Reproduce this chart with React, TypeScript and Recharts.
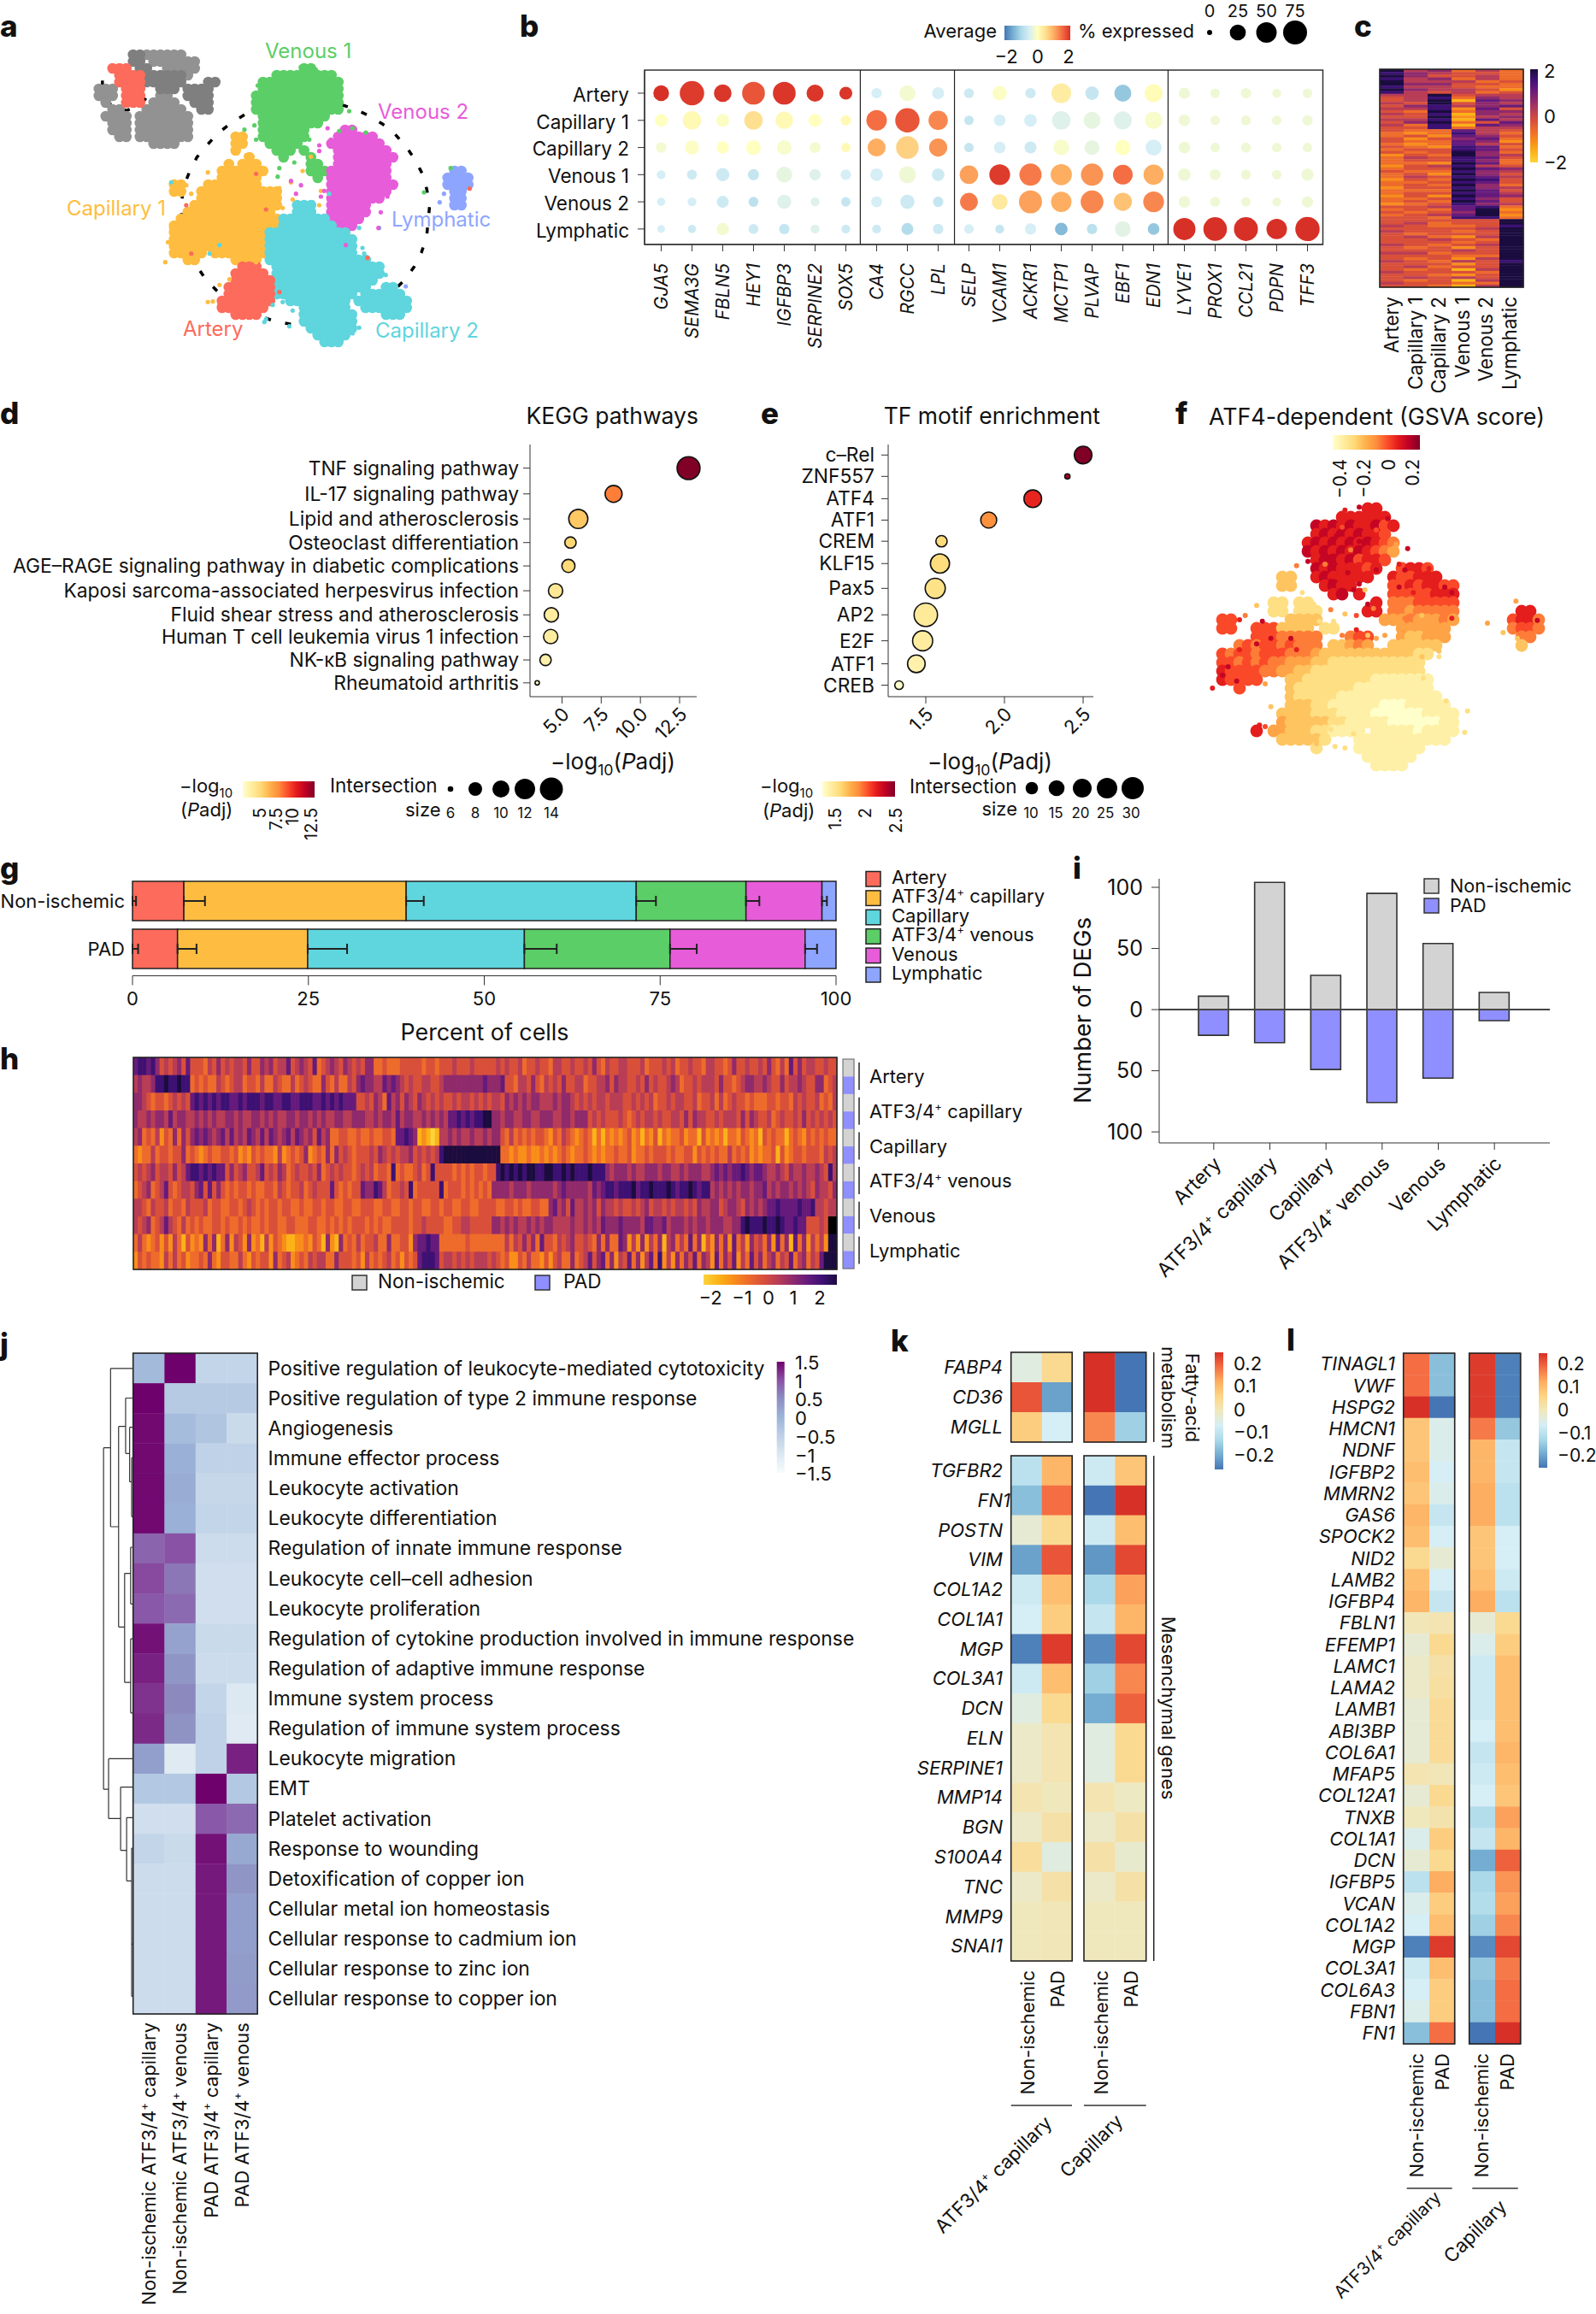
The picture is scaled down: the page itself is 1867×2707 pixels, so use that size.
import React from "react";
import { Bar, BarChart, ReferenceArea, ReferenceLine, Scatter, ScatterChart, XAxis, YAxis } from "recharts";

const FONT = "Inter, 'Liberation Sans', sans-serif";
const INK = "#111";

// ---------- colours ----------
const mix = (a: string, b: string, t: number) => {
  const p = (s: string, i: number) => parseInt(s.slice(i, i + 2), 16);
  const c = [1, 3, 5].map((i) => Math.round(p(a, i) + (p(b, i) - p(a, i)) * t));
  return `rgb(${c[0]},${c[1]},${c[2]})`;
};
const ramp = (stops: string[], t: number) => {
  const k = Math.max(0, Math.min(0.9999, t)) * (stops.length - 1);
  const i = Math.floor(k);
  return mix(stops[i], stops[i + 1], k - i);
};
const YLORRD = ["#ffffcc", "#ffeda0", "#fed976", "#feb24c", "#fd8d3c", "#fc4e2a", "#e31a1c", "#bd0026", "#800026"];
const RDYLBU = ["#4575b4", "#74add1", "#abd9e9", "#d6eef5", "#ffffbf", "#fee090", "#fdae61", "#f46d43", "#d73027"];
const RDYLBU_PALE = ["#4575b4", "#74add1", "#abd9e9", "#d6eef5", "#f0e8bd", "#fdd586", "#fdae61", "#f46d43", "#d73027"];
const BUPU = ["#f7fcfd", "#dce8f2", "#bdd0e6", "#9cb4d8", "#8c8fc2", "#8a52a5", "#6e016b"];
const INFERNO = ["#fcd33b", "#fbb318", "#f98e1a", "#ee6c2b", "#d9503a", "#b83d56", "#8f2a6c", "#661b7c", "#3d1174", "#1b0c3f"];
const ARTERY = "#fc6b5b", CAP1 = "#febd40", CAP2 = "#5fd5dd", VEN1 = "#5bce67", VEN2 = "#e75cd9", LYMPH = "#8ea5ff";
const GREY = "#d3d3d3", PADBLUE = "#8f8fff";

// ---------- a: cluster map, one letter per cell ----------
const umapCells = [
  "",
  "......DDGGGGGG",
  "......DD.GGGGGGG",
  "...RRR.DD..GGGGG...............VV",
  "....RRRRDDDDDDG............VVVVVVVVV",
  "....RRRRDDDDDD...DD......VVVVVVVVVVVV",
  ".GGG.RRR..DDD.DDDD.......VVVVVVVVVVVV",
  ".GGG.RRR..GG..DDDD......VVVVVVVVVVVVV",
  "..G..RRR.GGGG..DDD......VVVVVVVVVVVVV",
  "...GG...GGGGGG..DD......VVVVVVVVVVVVV",
  "..GGGG.GGGGGGGG..........VVVVVVVVVV",
  "...GGG.GGGGGGGG..........VVVVVVVVV",
  "...GGG.GGGGGGGG..........VVVVVVV.....MM.",
  "....GG.GGGGGGGG......OO..VVVVVVV....MMMMMM",
  ".........GGGG........OO...VVVVV....MMMMMMMM",
  ".....................O.....VVV.V....MMMMMMMM",
  ".......................O....V...V...MMMMMMMMM",
  "....................O.OOO.......VV..MMMMMMMM",
  "...................OOOOOOO......VVVMMMMMMMMM.........LL",
  "...................OOOOOO........V.MMMMMMMMM........LLLL",
  "............OO...OOOOOOOO..........MMMMMMMMMM.......LLLL",
  "............OO..OOOOOOOOOOOO.......MMMMMMMMM.........LL",
  "................OOOOOOOOOOOO.......MMMMMMMM..........LL",
  "...............OOOOOOOOOOOOO..TTT..MMMMMM............LL",
  "..............OOOOOOOOOOOOO...TTT..MMMMMM",
  ".............OOOOOOOOOOOOOOOTTTTTTTMMMMM",
  "............OOOOOOOOOOOOOOOOTTTTTTTTMMM",
  "............OOOOOOOOOOOOOOTTTTTTTTTTTT",
  "............OOOOOOOOOOOOOOTTTTTTTTTTTTT",
  "............OOOOOOOOOOOOOOTTTTTTTTTTTTT",
  "............OOOOO.OOOOOOOOTTTTTTTTTTTTT",
  "..............OO.....OOOO.TTTTTTTTTTTTTTT",
  "......................RRR..TTTTTTTTTTTTTTTT",
  ".....................RRRRR.TTTTTTTTTTTTTTTT",
  ".....................RRRRRRTTTTTTTTTTTTTTT",
  "....................RRRRRRRTTTTTTTTTTTTTT..TT",
  "....................RRRRRRRTTTTTTTTTTTT.TTTTTT",
  "...................RRRRRRRR..TTTTTTTTT.TTTTTTTT",
  "...................RRRRRRR.....TTTTTTT..TTTTTTT",
  ".....................RRRR......TTTTTTTT....TTT",
  "...............................TTTTTTTT",
  "................................TTTTTTT",
  ".................................TTTTT",
  "..................................TTT",
];
const orangeSpecks = [[497, 920], [625, 1060], [660, 1000], [690, 980], [740, 550], [910, 600], [935, 550], [875, 640], [965, 670], [600, 665], [575, 680], [640, 1058], [505, 850], [515, 800], [560, 650], [625, 605], [740, 545], [840, 660], [880, 700], [850, 730], [960, 720], [580, 900], [650, 895], [770, 920]];
const tealSpecks = [[1080, 800], [1140, 800], [1090, 870], [1160, 965], [1215, 1085], [800, 1120], [795, 1130], [870, 1145], [905, 1100], [630, 890], [660, 860], [990, 680], [940, 710], [515, 640], [1130, 940], [1095, 890], [820, 1070], [850, 1060], [880, 1090], [1080, 1150], [1060, 1170], [1000, 1210], [1190, 1110], [1165, 1005], [940, 745]];
const greenSpecks = [[735, 455], [765, 440], [770, 490], [810, 510], [1100, 465], [1020, 460], [1060, 450], [835, 620], [1050, 390], [1355, 590], [1275, 675], [840, 590], [780, 330], [775, 300], [1000, 285], [950, 245], [905, 235], [1020, 365], [885, 570], [905, 530], [930, 490]];
const magentaSpecks = [[960, 510], [985, 450], [875, 635], [905, 650], [890, 680], [965, 690], [1165, 690], [1040, 860], [1138, 800], [995, 490], [960, 530], [975, 670], [1170, 560], [1180, 650], [1145, 745]];
const arterySpecks = [[770, 610], [800, 735], [575, 890], [560, 720], [1105, 905], [1412, 662], [840, 1025], [660, 1070], [775, 1110]];
const lymphSpecks = [[1322, 710], [1335, 680], [1220, 1005]];
const outerRing = [[735, 403], [695, 432], [655, 468], [622, 510], [592, 552], [570, 603], [552, 655], [546, 710], [546, 768], [560, 850], [590, 930], [617, 978], [650, 1018], [700, 1065], [770, 1105], [820, 1125], [870, 1137], [985, 1135], [1100, 1088], [1160, 1045], [1215, 985], [1245, 937], [1267, 887], [1283, 830], [1292, 720], [1283, 663], [1270, 610], [1248, 560], [1220, 513], [1187, 470], [1150, 435], [1108, 405], [1060, 380], [1020, 365]];
const innerRing = [[340, 225], [308, 268], [308, 325], [335, 370], [380, 388], [425, 368], [450, 325], [450, 265], [420, 225]];
const linkLine = [[425, 368], [450, 390], [490, 428], [527, 463], [565, 500]];

const toCell = (map: string[], ox: number, oy: number, sx: number, sy: number) => (letter: string) =>
  map.flatMap((row, r) => row.split("").flatMap((ch, c) => (ch === letter ? [{ x: ox + sx * c, y: oy + sy * r }] : [])));
const umapGrid = toCell(umapCells, 277, 168, 20.56, 24);
const pts = (list: number[][]) => list.map(([x, y]) => ({ x, y }));

// ---------- b ----------
const dotGenes = ["GJA5", "SEMA3G", "FBLN5", "HEY1", "IGFBP3", "SERPINE2", "SOX5", "CA4", "RGCC", "LPL", "SELP", "VCAM1", "ACKR1", "MCTP1", "PLVAP", "EBF1", "EDN1", "LYVE1", "PROX1", "CCL21", "PDPN", "TFF3"];
const dotRows = ["Artery", "Capillary 1", "Capillary 2", "Venous 1", "Venous 2", "Lymphatic"];
const dotPct = [
  [24, 79, 33, 66, 66, 30, 13, 6, 25, 10, 5, 18, 6, 45, 15, 30, 36, 8, 4, 6, 3, 4],
  [12, 38, 13, 38, 33, 13, 6, 50, 78, 43, 4, 9, 12, 38, 30, 35, 33, 9, 4, 5, 4, 6],
  [6, 17, 11, 20, 19, 7, 4, 35, 65, 36, 4, 9, 10, 24, 20, 22, 25, 9, 4, 5, 4, 4],
  [3, 5, 14, 8, 24, 8, 6, 12, 30, 12, 38, 52, 62, 55, 62, 45, 48, 12, 7, 5, 4, 11],
  [2, 3, 10, 5, 17, 3, 4, 7, 18, 6, 35, 24, 68, 50, 66, 36, 52, 9, 5, 4, 3, 8],
  [1.5, 2, 11, 5, 6, 3, 3, 3, 10, 6, 4, 3, 8, 12, 6, 24, 9, 62, 72, 75, 50, 78],
];
const dotAvg = [
  [2, 1.9, 1.95, 1.7, 1.95, 1.95, 1.95, -0.5, -0.15, -0.5, -0.6, -0.05, -0.6, 0.3, -0.7, -1.2, 0.05, -0.2, -0.2, -0.2, -0.2, -0.2],
  [0, 0.1, -0.05, 0.5, 0.1, 0, 0.1, 1.5, 1.7, 1.3, -0.7, -0.5, -0.5, -0.4, -0.3, -0.4, -0.1, -0.2, -0.2, -0.2, -0.2, -0.2],
  [-0.15, -0.05, 0, 0, -0.1, -0.15, 0.1, 1, 0.65, 1.2, -0.7, -0.5, -0.6, -0.1, -0.3, 0, -0.5, -0.2, -0.2, -0.2, -0.2, -0.2],
  [-0.5, -0.6, -0.6, -0.7, -0.3, -0.4, -0.5, -0.5, -0.2, -0.6, 1.1, 1.9, 1.4, 1, 1.2, 1.5, 1, -0.2, -0.2, -0.2, -0.2, -0.2],
  [-0.5, -0.5, -0.6, -0.8, -0.4, -0.4, -0.7, -0.5, -0.6, -0.7, 1.4, 0.35, 1.1, 1, 1.3, 0.8, 1.3, -0.2, -0.2, -0.2, -0.2, -0.2],
  [-0.5, -0.6, -0.15, -0.6, -0.7, -0.4, -0.6, -0.6, -0.9, -0.6, -0.5, -0.7, -0.5, -1.35, -0.8, -0.35, -1.2, 2, 2, 2, 2, 2],
];
const dotFacetBreaks = [6.47, 9.53, 16.47];
const pctRadius = (p: number) => 3 + 11 * Math.sqrt(p / 75);

// ---------- c ----------
const markerHeat = [
  "956353", "865443", "964453", "856353", "955534", "966443", "855433", "965542", "854534",
  "559455", "458365", "459176", "549465", "468567", "558274", "439366", "548165", "449256", "558175", "469347", "538176", "448355",
  "433754", "323853", "342764", "424673", "433762", "323754", "432873",
  "344874", "434963", "243965", "354874", "344863", "332973", "245854", "344976", "433865", "342964", "354875", "243984", "334874", "343963", "244865", "333974", "344875", "242976", "334864", "343974", "234865",
  "445783", "343792", "434693", "345792", "443883",
  "444449", "453449", "543348", "444459", "544349", "434449", "453259", "445439", "444349", "543459", "434249", "444549", "553449", "444339", "434259", "543548", "444249", "453449", "434159", "544439", "443249", "454549", "434159", "544339", "443159",
];
const markerCols = ["Artery", "Capillary 1", "Capillary 2", "Venous 1", "Venous 2", "Lymphatic"];

// ---------- d, e ----------
const keggTerms = ["TNF signaling pathway", "IL-17 signaling pathway", "Lipid and atherosclerosis", "Osteoclast differentiation", "AGE\u2013RAGE signaling pathway in diabetic complications", "Kaposi sarcoma-associated herpesvirus infection", "Fluid shear stress and atherosclerosis", "Human T cell leukemia virus 1 infection", "NK-\u03baB signaling pathway", "Rheumatoid arthritis"];
const keggRank = [0, 1.08, 2.13, 3.12, 4.1, 5.14, 6.15, 7.06, 8.04, 9];
const keggPadj = [13.07, 8.29, 6.04, 5.54, 5.41, 4.59, 4.32, 4.28, 3.95, 3.42];
const keggSize = [14, 10.3, 11.5, 7.8, 8.5, 9, 9, 9, 7.8, 6.1];
const tfTerms = ["c\u2013Rel", "ZNF557", "ATF4", "ATF1", "CREM", "KLF15", "Pax5", "AP2", "E2F", "ATF1", "CREB"];
const tfRank = [0, 0.93, 1.9, 2.83, 3.75, 4.72, 5.8, 6.95, 8.08, 9.08, 10.01];
const tfPadj = [2.5, 2.4, 2.18, 1.9, 1.6, 1.59, 1.56, 1.5, 1.48, 1.44, 1.33];
const tfSize = [17, 1.5, 17, 14, 7, 20, 22, 30, 22, 17, 4];
const keggRadius = (n: number) => 13.4 * Math.sqrt(Math.max(0.03, n - 5.8) / 8.2);
const tfRadius = (n: number) => 13.7 * Math.sqrt(n / 30);

// ---------- f ----------
const gsvaCells = [
  "..................77",
  "...............777777",
  "............8787877867",
  "............787878776",
  "...........78787878765",
  "...........87878787654",
  "............788786776",
  "............87877767..6776",
  "........33..7877777..766777",
  "........33...7877....66767766",
  "..............78.7...66666777",
  ".......22.22.......7.55566666",
  ".......22.222.....77.55455555.......77",
  ".66......3333.......444544454......6775",
  ".66..6663333.22.......444444.......5665",
  ".....66655555...566...433444........55",
  "...5656656555.33454..333333.........3",
  ".6566566655543333333333322",
  ".665656554443322222222222",
  ".766665544332222222222222",
  ".76666...33222222221111111",
  "...6.....32222222111111111",
  ".........322222111111111111",
  ".........3332211111100011111",
  "........333322211110000001111",
  "........433333221111100000011",
  ".....7.44333221111.1111101111",
  "........333332...11111111111",
  "............2....11111111",
  "..................111111",
  "...................1111",
];
const gsvaSpecks = [[470, 545, 8], [500, 465, 8], [480, 590, 8], [830, 545, 8], [760, 440, 8], [660, 400, 8], [610, 410, 7], [720, 410, 7], [770, 530, 5], [790, 530, 4], [440, 605, 5], [720, 620, 8], [660, 670, 8], [640, 690, 8], [690, 740, 8], [710, 755, 5], [680, 690, 3], [650, 780, 6], [610, 775, 3], [300, 745, 3], [240, 795, 7], [260, 780, 5], [650, 830, 7], [600, 850, 5], [690, 850, 3], [720, 860, 4], [750, 850, 4], [985, 790, 7], [985, 700, 8], [905, 615, 7], [800, 600, 7], [940, 925, 2], [940, 905, 3], [880, 925, 3], [885, 1000, 2], [965, 1080, 2], [1040, 1115, 2], [1030, 1190, 2], [1110, 807, 4], [1165, 840, 3], [1285, 797, 8], [1210, 730, 4], [1215, 860, 3], [145, 1035, 7], [250, 1030, 6], [330, 1020, 4], [350, 1100, 3], [310, 1165, 7], [330, 1170, 6], [575, 1240, 2], [610, 1245, 2], [510, 1230, 3], [560, 1180, 2], [640, 1195, 2], [540, 815, 2], [520, 800, 2], [570, 800, 2], [560, 760, 5], [500, 740, 2], [460, 700, 2], [540, 600, 5], [630, 550, 5], [600, 470, 6], [580, 500, 8], [660, 520, 8], [720, 480, 6], [620, 630, 8], [560, 660, 8], [320, 800, 8], [350, 860, 8], [420, 860, 8], [200, 960, 8], [180, 990, 8], [240, 900, 7], [230, 1010, 8], [300, 880, 8], [440, 900, 7], [820, 620, 8], [900, 640, 7], [960, 680, 8], [800, 680, 8], [850, 700, 7], [880, 780, 3], [900, 800, 4], [820, 790, 5]];
const gsvaScore = (d: number) => -0.5 + 0.085 * d;
const gsvaPoints = gsvaCells.flatMap((row, r) =>
  row.split("").flatMap((ch, c) => (ch === "." ? [] : [{ x: 150 + 30 * c, y: 405 + 30 * r, score: gsvaScore(Number(ch)) }])),
);
const gsvaExtras = gsvaSpecks.map(([x, y, d]) => ({ x, y, score: gsvaScore(d) }));

// ---------- g ----------
const compCategories = ["Non-ischemic", "PAD"];
const compTypes = ["Artery", "ATF3/4+ capillary", "Capillary", "ATF3/4+ venous", "Venous", "Lymphatic"];
const compColors = [ARTERY, CAP1, CAP2, VEN1, VEN2, LYMPH];
const compShare = [
  [7.3, 31.6, 32.7, 15.6, 10.8, 2.0],
  [6.4, 18.5, 30.8, 20.7, 19.2, 4.4],
];
const compError = [
  [0.5, 3, 2.5, 2.8, 1.9, 0.7],
  [0.8, 2.7, 5.6, 4.6, 3.8, 1.7],
];
const compData = compCategories.map((name, i) => {
  const row: any = { name };
  compTypes.forEach((_, k) => {
    row[`v${k}`] = compShare[i][k];
    row[`e${k}`] = compError[i][k];
  });
  return row;
});

// ---------- h ----------
const geneStripes = [
  "78878645456474443546454554644656455745654734565465454663343334444434434445444544444545445344544355445445464354455444534445453445443554434644544546435374645544544",
  "565568898898834343354345534435335433534543364353354676655767654544554456666666667666744355464354546445534455646554454645445653445455546443456655654464556544663454",
  "665434434545478787878877878887887788778887787878777445465375646546545454454554545455465656566555656654545455455544545453445455445344535345443433344344354544534355",
  "655656657566556565655665655665656556656656565566556665565665756655656565778787889966566556655666556656664545444543454554544554646554454555464654453454454645454545",
  "563435243636467676567575657657576567576564756334433433433443778761210155656556556566435343434432435432343131323234231324132334233142323133243231434331343243434335",
  "323353443446343234334434232434332523434623436364543444546545455645454589999999999999332322322323234323343232334334233434443433442434343353434232334142344344435454",
  "454564554645788787877464564457454653454454634545443454534438343345348444434343443448989898998899889898889888656665655666566556566655676767787677655654655655654856",
  "345634574345546747464343443433443543445345444743434476687534454834444483444343434366665666566666567666665767887888978898889878898788565656566566756566565654655466",
  "554354453443544453443344345434344344334334434433443344433443344344334434433443344443344343344336756475565646554544545645545455454655664566546565677877778778554556",
  "545634575435343433443433434334344334433344334343434443434334444344544443344554444466565655656566555565565657666766665776675666565665666556689888988987787744454",
  "353234242531423263613625426231524321122324316216343534453363344267787733333343333333353546463744354564454363633762526253615635373614263627352645362736173625352998",
  "243433253534233436324433532434426345234354553364443425343453424347888745545454555454342243533242453363457467362547362573825263647365273647253746356354735635479999",
];
const H_COLS = 165;
const sideColors = ["n", "p", "n", "p", "n", "p", "n", "p", "n", "p", "n", "p"];

// ---------- i ----------
const degTypes = ["Artery", "ATF3/4+ capillary", "Capillary", "ATF3/4+ venous", "Venous", "Lymphatic"];
const degNonIschemic = [11, 104, 28, 95, 54, 14];
const degPad = [-21, -27, -49, -76, -56, -9];
const degData = degTypes.map((name, i) => ({ name, ni: degNonIschemic[i], pad: degPad[i] }));

// ---------- j ----------
const goTerms = ["Positive regulation of leukocyte-mediated cytotoxicity", "Positive regulation of type 2 immune response", "Angiogenesis", "Immune effector process", "Leukocyte activation", "Leukocyte differentiation", "Regulation of innate immune response", "Leukocyte cell\u2013cell adhesion", "Leukocyte proliferation", "Regulation of cytokine production involved in immune response", "Regulation of adaptive immune response", "Immune system process", "Regulation of immune system process", "Leukocyte migration", "EMT", "Platelet activation", "Response to wounding", "Detoxification of copper ion", "Cellular metal ion homeostasis", "Cellular response to cadmium ion", "Cellular response to zinc ion", "Cellular response to copper ion"];
const goValues = [
  [-0.1, 1.5, -0.6, -0.6], [1.5, -0.4, -0.4, -0.4], [1.45, -0.15, -0.3, -0.7], [1.45, 0.05, -0.55, -0.55],
  [1.45, 0.1, -0.65, -0.65], [1.45, 0.05, -0.6, -0.6], [0.85, 1.0, -0.75, -0.75], [1.05, 0.7, -0.8, -0.8],
  [0.95, 0.8, -0.8, -0.8], [1.4, 0.25, -0.7, -0.7], [1.3, 0.4, -0.75, -0.75], [1.2, 0.55, -0.6, -1.0],
  [1.25, 0.45, -0.55, -1.05], [0.3, -1.05, -0.55, 1.3], [-0.35, -0.35, 1.5, -0.35], [-0.8, -0.8, 0.95, 0.8],
  [-0.6, -0.7, 1.4, 0.15], [-0.75, -0.75, 1.35, 0.4], [-0.75, -0.75, 1.35, 0.3], [-0.75, -0.75, 1.35, 0.3],
  [-0.75, -0.75, 1.35, 0.33], [-0.75, -0.75, 1.35, 0.35],
];
const goCols = ["Non-ischemic ATF3/4+ capillary", "Non-ischemic ATF3/4+ venous", "PAD ATF3/4+ capillary", "PAD ATF3/4+ venous"];
const goScale = ["1.5", "1", "0.5", "0", "\u22120.5", "\u22121", "\u22121.5"];

// ---------- k ----------
const fattyGenes = ["FABP4", "CD36", "MGLL"];
const fattyValues = [[-0.03, 0.04, 0.2, -0.2], [0.17, -0.16, 0.2, -0.2], [0.06, -0.05, 0.13, -0.11]];
const mesGenes = ["TGFBR2", "FN1", "POSTN", "VIM", "COL1A2", "COL1A1", "MGP", "COL3A1", "DCN", "ELN", "SERPINE1", "MMP14", "BGN", "S100A4", "TNC", "MMP9", "SNAI1"];
const mesValues = [
  [-0.08, 0.09, -0.06, 0.07], [-0.13, 0.15, -0.2, 0.2], [-0.02, 0.04, -0.06, 0.08], [-0.16, 0.17, -0.17, 0.18],
  [-0.06, 0.08, -0.1, 0.11], [-0.05, 0.06, -0.07, 0.09], [-0.19, 0.19, -0.18, 0.18], [-0.06, 0.08, -0.11, 0.13],
  [-0.03, 0.04, -0.15, 0.16], [-0.01, 0.01, -0.03, 0.04], [-0.01, 0.01, -0.03, 0.04], [0.01, 0, 0.01, -0.005],
  [-0.01, 0.02, -0.01, 0.02], [0.03, -0.03, 0.02, -0.015], [-0.01, 0.02, -0.01, 0.02], [0, 0.005, 0, 0], [0, 0.005, 0, 0],
];

// ---------- l ----------
const ecmGenes = ["TINAGL1", "VWF", "HSPG2", "HMCN1", "NDNF", "IGFBP2", "MMRN2", "GAS6", "SPOCK2", "NID2", "LAMB2", "IGFBP4", "FBLN1", "EFEMP1", "LAMC1", "LAMA2", "LAMB1", "ABI3BP", "COL6A1", "MFAP5", "COL12A1", "TNXB", "COL1A1", "DCN", "IGFBP5", "VCAN", "COL1A2", "MGP", "COL3A1", "COL6A3", "FBN1", "FN1"];
const ecmValues = [
  [0.15, -0.13, 0.19, -0.19], [0.15, -0.13, 0.19, -0.19], [0.2, -0.2, 0.19, -0.19], [0.07, -0.04, 0.14, -0.12],
  [0.07, -0.04, 0.09, -0.07], [0.08, -0.05, 0.09, -0.07], [0.07, -0.04, 0.1, -0.08], [0.09, -0.07, 0.1, -0.08],
  [0.08, -0.05, 0.07, -0.05], [0.04, -0.02, 0.07, -0.05], [0.08, -0.05, 0.08, -0.06], [0.09, -0.07, 0.1, -0.08],
  [0.005, 0.01, -0.02, 0.04], [-0.02, 0.04, -0.04, 0.06], [-0.01, 0.02, -0.06, 0.08], [-0.01, 0.025, -0.06, 0.08],
  [-0.02, 0.035, -0.06, 0.08], [-0.02, 0.035, -0.05, 0.08], [-0.02, 0.035, -0.07, 0.09], [0.01, 0.005, -0.06, 0.08],
  [-0.02, 0.04, -0.05, 0.07], [0, 0.015, -0.09, 0.11], [-0.04, 0.06, -0.07, 0.09], [-0.02, 0.04, -0.15, 0.16],
  [-0.08, 0.1, -0.1, 0.12], [-0.04, 0.06, -0.09, 0.11], [-0.05, 0.08, -0.11, 0.13], [-0.19, 0.19, -0.18, 0.18],
  [-0.06, 0.08, -0.12, 0.14], [-0.05, 0.06, -0.13, 0.15], [-0.04, 0.06, -0.13, 0.15], [-0.13, 0.15, -0.2, 0.2],
];
const conditionCols = ["Non-ischemic", "PAD"];
const divScale = ["0.2", "0.1", "0", "\u22120.1", "\u22120.2"];

// ---------- scale colour helpers ----------
const infernoDigit = (v: string) => INFERNO[Number(v)];
const divColor = (v: number) => ramp(RDYLBU_PALE, (v + 0.2) / 0.4);
const goColor = (v: number) => ramp(BUPU, (v + 1.5) / 3);
const avgColor = (v: number) => ramp(RDYLBU, (v + 2) / 4);

// ---------- shared pieces ----------
const ZERO = { top: 0, right: 0, bottom: 0, left: 0 };
const at = (left: number, top: number): React.CSSProperties => ({ position: "absolute", left, top });

function Heat({ left, top, width, height, values, color, labels, labelWidth = 0, side = "left", fontSize = 22, italic = false, bg, nudge = {} }: any) {
  const rows = values.length;
  const cols = values[0].length;
  const data: any[] = [];
  for (let r = 0; r < rows; r++) for (let c = 0; c < cols; c++) data.push({ col: c, row: r, v: values[r][c] });
  const cw = width / cols;
  const ch = height / rows;
  const ticks = labels ? labels.map((_: string, i: number) => i) : undefined;
  return (
    <div style={at(side === "left" ? left - labelWidth : left, top)}>
      {bg && <div style={{ position: "absolute", left: 0, top: 0, width, height, background: bg }} />}
      <ScatterChart width={width + labelWidth} height={height} margin={ZERO}>
        <XAxis type="number" dataKey="col" domain={[-0.5, cols - 0.5]} hide />
        <YAxis
          type="number" dataKey="row" domain={[-0.5, rows - 0.5]} reversed hide={!labels} width={labelWidth}
          orientation={side} ticks={ticks} interval={0} axisLine={false} tickLine={false} tickMargin={0} tickSize={0}
          tick={({ x, y, payload }: any) => (
            <text x={side === "left" ? x - 10 + (nudge[labels[payload.value]] || 0) : x + 12} y={y} dy=".35em" textAnchor={side === "left" ? "end" : "start"} fontSize={fontSize} fontStyle={italic ? "italic" : "normal"} fill={INK} fontFamily={FONT}>
              {labels[payload.value]}
            </text>
          )}
        />
        <Scatter
          data={data} isAnimationActive={false}
          shape={(p: any) => <rect x={p.cx - cw / 2} y={p.cy - ch / 2} width={cw + 0.4} height={ch + 0.4} fill={color(p.payload.v)} />}
        />
      </ScatterChart>
    </div>
  );
}

const Dots = ({ data, fill, r }: { data: any[]; fill: string; r: number }) => (
  <Scatter data={data} fill={fill} isAnimationActive={false} shape={(p: any) => <circle cx={p.cx} cy={p.cy} r={r} fill={fill} />} />
);

function ClusterMap() {
  const layers: [string, string][] = [["G", "#929292"], ["D", "#7f7f7f"], ["V", VEN1], ["M", VEN2], ["L", LYMPH], ["O", CAP1], ["T", CAP2], ["R", ARTERY]];
  const specks: [number[][], string][] = [[orangeSpecks, CAP1], [tealSpecks, CAP2], [greenSpecks, VEN1], [magentaSpecks, VEN2], [arterySpecks, ARTERY], [lymphSpecks, LYMPH]];
  const dash = { stroke: "#000", strokeWidth: 3.5, strokeDasharray: "7 17" };
  return (
    <div style={at(0, 0)}>
      <ScatterChart width={610} height={430} margin={ZERO}>
        <XAxis type="number" dataKey="x" domain={[0, 1568]} hide />
        <YAxis type="number" dataKey="y" domain={[0, 1290]} reversed hide />
        <Scatter data={pts(outerRing)} line={dash} shape={() => <g />} isAnimationActive={false} />
        <Scatter data={pts(innerRing)} line={dash} shape={() => <g />} isAnimationActive={false} />
        <Scatter data={pts(linkLine)} line={dash} shape={() => <g />} isAnimationActive={false} />
        {layers.map(([k, c]) => Dots({ data: umapGrid(k), fill: c, r: 6.3 }))}
        {specks.map(([list, c]) => Dots({ data: pts(list), fill: c, r: 2.6 }))}
      </ScatterChart>
    </div>
  );
}

function DotPlot() {
  const data = dotRows.flatMap((_, r) => dotGenes.map((_g, c) => ({ x: c, y: r, pct: dotPct[r][c], avg: dotAvg[r][c] })));
  return (
    <div style={at(603.5, 82)}>
      <ScatterChart width={150 + 793.5} height={204 + 130} margin={ZERO}>
        <XAxis
          type="number" dataKey="x" domain={[-0.54, 21.5]} ticks={dotGenes.map((_, i) => i)} interval={0} height={130}
          tickSize={8} stroke="#333" tickLine={{ stroke: "#333" }}
          tick={({ x, y, payload }: any) => (
            <text transform={`rotate(-90 ${x + 8} ${y + 12})`} x={x + 8} y={y + 12} textAnchor="end" fontSize={21} fontStyle="italic" fill={INK} fontFamily={FONT}>
              {dotGenes[payload.value]}
            </text>
          )}
        />
        <YAxis
          type="number" dataKey="y" domain={[-0.85, 5.57]} reversed width={150} ticks={dotRows.map((_, i) => i)} interval={0}
          tickSize={8} stroke="#333"
          tick={({ x, y, payload }: any) => (
            <text x={x - 8} y={y + 2} dy=".35em" textAnchor="end" fontSize={22.5} fill={INK} fontFamily={FONT}>{dotRows[payload.value]}</text>
          )}
        />
        <ReferenceArea x1={-0.54} x2={21.5} y1={-0.85} y2={5.57} fill="none" stroke="#333" strokeWidth={1.5} />
        {dotFacetBreaks.map((b) => <ReferenceLine key={b} x={b} stroke="#222" strokeWidth={1.2} />)}
        <Scatter
          data={data} isAnimationActive={false}
          shape={(p: any) => <circle cx={p.cx} cy={p.cy} r={pctRadius(p.payload.pct)} fill={avgColor(p.payload.avg)} />}
        />
      </ScatterChart>
    </div>
  );
}

function Enrichment({ left, plotW, yW, terms, rank, padj, size, radius, domainX, domainY, ticksX, colorDomain, labelGap }: any) {
  const data = terms.map((t: string, i: number) => ({ x: padj[i], y: rank[i], n: size[i], t }));
  return (
    <div style={at(left, 520)}>
      <ScatterChart width={yW + plotW} height={295 + 70} margin={ZERO}>
        <XAxis
          type="number" dataKey="x" domain={domainX} ticks={ticksX} interval={0} height={70} tickSize={8} stroke="#333"
          tick={({ x, y, payload }: any) => (
            <text transform={`rotate(-45 ${x + 10} ${y + 12})`} x={x + 10} y={y + 12} textAnchor="end" fontSize={22} fill={INK} fontFamily={FONT}>
              {Number(payload.value).toFixed(1)}
            </text>
          )}
        />
        <YAxis
          type="number" dataKey="y" domain={domainY} reversed width={yW} ticks={rank} interval={0} tickSize={8} stroke="#333"
          tick={({ x, y, payload }: any) => (
            <text x={x - labelGap} y={y} dy=".35em" textAnchor="end" fontSize={22.8} fill={INK} fontFamily={FONT}>{terms[rank.indexOf(payload.value)]}</text>
          )}
        />
        <Scatter
          data={data} isAnimationActive={false}
          shape={(p: any) => (
            <circle cx={p.cx} cy={p.cy} r={radius(p.payload.n)} stroke="#111" strokeWidth={1.6}
              fill={ramp(YLORRD, (p.payload.x - colorDomain[0]) / (colorDomain[1] - colorDomain[0]))} />
          )}
        />
      </ScatterChart>
    </div>
  );
}

function GsvaMap() {
  const dot = (r: number) => (p: any) => <circle cx={p.cx} cy={p.cy} r={r} fill={ramp(YLORRD, (p.payload.score + 0.5) / 0.8)} />;
  return (
    <div style={at(1370, 460)}>
      <ScatterChart width={497} height={480} margin={ZERO}>
        <XAxis type="number" dataKey="x" domain={[0, 1491]} hide />
        <YAxis type="number" dataKey="y" domain={[0, 1440]} reversed hide />
        <Scatter data={gsvaPoints} isAnimationActive={false} shape={dot(7.4)} />
        <Scatter data={gsvaExtras} isAnimationActive={false} shape={dot(3)} />
      </ScatterChart>
    </div>
  );
}

const LongTick = ({ text, x, y, size = 21, rot = 0, anchor = "end" }: any) => {
  const plus = text.indexOf("+");
  const t = rot ? `rotate(${rot} ${x} ${y})` : undefined;
  return (
    <text x={x} y={y} transform={t} textAnchor={anchor} fontSize={size} fill={INK} fontFamily={FONT}>
      {plus < 0 ? text : (
        <>
          {text.slice(0, plus)}
          <tspan dy={-size * 0.4} fontSize={size * 0.6}>+</tspan>
          <tspan dy={size * 0.4}>{text.slice(plus + 1)}</tspan>
        </>
      )}
    </text>
  );
};

// stacked segment with the whisker drawn from the segment's left edge, as in the figure
const WhiskerSegment = (k: number) => (p: any) => {
  const cy = p.y + p.height / 2;
  const end = p.x + (p.payload[`e${k}`] * p.width) / p.payload[`v${k}`];
  return (
    <g>
      <rect x={p.x} y={p.y} width={p.width} height={p.height} fill={compColors[k]} stroke="#222" strokeWidth={1.5} />
      <path d={`M${p.x} ${cy}H${end}M${end} ${cy - 6}V${cy + 6}M${p.x} ${cy - 6}V${cy + 6}`} stroke="#222" strokeWidth={2} fill="none" />
    </g>
  );
};

function CompositionBars() {
  return (
    <div style={at(0, 1025.5)}>
      <BarChart layout="vertical" data={compData} width={1008} height={115.5 + 60} margin={{ top: 0, right: 30, bottom: 0, left: 0 }} barCategoryGap={5}>
        <XAxis type="number" domain={[0, 100]} ticks={[0, 25, 50, 75, 100]} interval={0} height={60} tickSize={11} tickMargin={8} stroke="#333" tick={{ fontSize: 22, fill: INK, fontFamily: FONT }} />
        <YAxis
          type="category" dataKey="name" width={155} axisLine={false} tickLine={false} padding={{ top: 0, bottom: 3.5 }}
          tick={({ y, payload }: any) => (
            <text x={146} y={y} dy=".35em" textAnchor="end" fontSize={22} fill={INK} fontFamily={FONT}>{payload.value}</text>
          )}
        />
        {compTypes.map((t, k) => (
          <Bar key={t} dataKey={`v${k}`} stackId="a" fill={compColors[k]} isAnimationActive={false} shape={WhiskerSegment(k)} />
        ))}
      </BarChart>
    </div>
  );
}

function DegBars() {
  return (
    <div style={at(1256, 1028)}>
      <BarChart data={degData} width={100 + 457} height={309 + 140} margin={ZERO} stackOffset="sign" barSize={35}>
        <XAxis
          dataKey="name" height={140} tickSize={8} stroke="#333" interval={0} padding={{ left: 31, right: 32 }}
          tick={({ x, y, payload }: any) => <LongTick text={payload.value} x={x + 10} y={y + 16} rot={-45} size={23} />}
        />
        <YAxis domain={[-109, 107]} ticks={[-100, -50, 0, 50, 100]} interval={0} width={100} tickSize={9} tickMargin={10} stroke="#333" tickFormatter={(v: number) => String(Math.abs(v))} tick={{ fontSize: 25, fill: INK, fontFamily: FONT }} />
        <Bar dataKey="ni" stackId="d" fill={GREY} stroke="#333" strokeWidth={1.6} isAnimationActive={false} />
        <Bar dataKey="pad" stackId="d" fill={PADBLUE} stroke="#333" strokeWidth={1.6} isAnimationActive={false} />
        <ReferenceLine y={0} stroke="#444" strokeWidth={2} />
      </BarChart>
    </div>
  );
}

// ---------- overlay text ----------
const T = ({ x, y, size = 22, anchor = "start", rot, weight, italic, fill = INK, children }: any) => (
  <text x={x} y={y} fontSize={size} textAnchor={anchor} fontWeight={weight} fontStyle={italic ? "italic" : undefined} fill={fill}
    transform={rot ? `rotate(${rot} ${x} ${y})` : undefined}>
    {children}
  </text>
);
const LogLabel = ({ x, y, size = 26, anchor = "middle" }: any) => (
  <text x={x} y={y} fontSize={size} textAnchor={anchor} fill={INK}>
    {"\u2212log"}<tspan dy={size * 0.28} fontSize={size * 0.68}>10</tspan><tspan dy={-size * 0.28}>(</tspan><tspan fontStyle="italic">P</tspan>adj)
  </text>
);
const LegendLog = ({ x, y, size = 22 }: any) => (
  <text x={x} y={y} fontSize={size} fill={INK}>
    {"\u2212log"}<tspan dy={size * 0.28} fontSize={size * 0.68}>10</tspan>
  </text>
);
const Grad = ({ id, stops, vertical }: any) => (
  <linearGradient id={id} x1="0" y1="0" x2={vertical ? 0 : 1} y2={vertical ? 1 : 0}>
    {stops.map((c: string, i: number) => <stop key={i} offset={i / (stops.length - 1)} stopColor={c} />)}
  </linearGradient>
);
const PANEL_LETTERS: [string, number, number][] = [["a", 0, 43], ["b", 608, 43], ["c", 1584, 43], ["d", 0, 496], ["e", 890, 496], ["f", 1375, 496], ["g", 0, 1028], ["h", 0, 1251], ["i", 1255, 1028], ["j", 0, 1585], ["k", 1042, 1581], ["l", 1505, 1580]];
const DENDRO = "M36 262V1045 M36 262H50 M50 80V443 M50 80H95 M50 443H66 M66 213V673 M66 213H80 M80 148V275 M80 148H95 M80 275H88 M88 215V340 M88 215H95 M88 340H92 M92 285V420 M92 285H95 M92 420H95 M66 673H78 M78 550V800 M78 550H90 M90 490V620 M90 490H95 M90 620H95 M78 800H90 M90 700V870 M90 700H95 M90 870H95 M36 1045H46 M46 975V1112 M46 975H95 M46 1112H70 M70 1040V1185 M70 1040H95 M70 1185H82 M82 1110V1255 M82 1110H95 M82 1255H92 M92 1180V1400 M92 1180H95 M92 1400H95 M92 1320V1520 M92 1520H95";

function Overlay() {
  const frame = { fill: "none", stroke: "#222", strokeWidth: 1.6 };
  return (
    <svg width={1867} height={2707} style={{ position: "absolute", left: 0, top: 0, pointerEvents: "none" }} fontFamily={FONT}>
      <defs>
        <Grad id="gAvg" stops={RDYLBU} />
        <Grad id="gYl" stops={YLORRD} />
        <Grad id="gInfV" stops={[...INFERNO].reverse()} vertical />
        <Grad id="gInfH" stops={INFERNO} />
        <Grad id="gBu" stops={[...BUPU].reverse()} vertical />
        <Grad id="gDiv" stops={[...RDYLBU_PALE].reverse()} vertical />
      </defs>
      {PANEL_LETTERS.map(([s, x, y]) => <T key={s} x={x} y={y} size={35} weight={800}>{s}</T>)}

      {/* a */}
      <T x={310} y={68} size={24} fill={VEN1}>Venous 1</T>
      <T x={442} y={139} size={24} fill={VEN2}>Venous 2</T>
      <T x={78} y={252} size={24} fill={CAP1}>Capillary 1</T>
      <T x={458} y={265} size={24} fill={LYMPH}>Lymphatic</T>
      <T x={214} y={393} size={24} fill={ARTERY}>Artery</T>
      <T x={439} y={395} size={24} fill={CAP2}>Capillary 2</T>

      {/* b legend */}
      <T x={1166} y={44} anchor="end">Average</T>
      <rect x={1175} y={30} width={77} height={17} fill="url(#gAvg)" />
      {["\u22122", "0", "2"].map((s, i) => <T key={s} x={[1177, 1214, 1250][i]} y={74} anchor="middle">{s}</T>)}
      <T x={1261} y={44}>% expressed</T>
      {[0, 25, 50, 75].map((p, i) => (
        <g key={p}>
          <circle cx={[1415, 1448, 1481.5, 1515][i]} cy={38} r={pctRadius(p)} fill="#000" />
          <T x={[1415, 1448, 1481.5, 1515][i]} y={20} size={20} anchor="middle">{p}</T>
        </g>
      ))}

      {/* c */}
      <rect x={1614} y={81} width={168} height={255} {...frame} />
      <rect x={1790} y={81} width={9} height={109} fill="url(#gInfV)" />
      <T x={1806} y={91}>2</T>
      <T x={1806} y={144}>0</T>
      <T x={1806} y={198}>{"\u22122"}</T>
      {markerCols.map((s, i) => <T key={s} x={1628 + 27.6 * i + 8} y={347} rot={-90} anchor="end" size={22.5}>{s}</T>)}

      {/* d, e */}
      <T x={817} y={496} anchor="end" size={26.5}>KEGG pathways</T>
      <T x={1287} y={496} anchor="end" size={26.5}>TF motif enrichment</T>
      <LogLabel x={717} y={900} />
      <LogLabel x={1158} y={900} />

      <LegendLog x={210} y={927} />
      <text x={211} y={955} fontSize={22} fill={INK}>(<tspan fontStyle="italic">P</tspan>adj)</text>
      <rect x={284} y={914} width={84} height={19} fill="url(#gYl)" />
      {["5", "7.5", "10", "12.5"].map((s, i) => <T key={s} x={[303, 322, 341, 363][i] + 8} y={945} rot={-90} anchor="end" size={20}>{s}</T>)}
      <T x={386} y={927} size={22.5}>Intersection</T>
      <T x={474} y={955}>size</T>
      {[6, 8, 10, 12, 14].map((n, i) => (
        <g key={n}>
          <circle cx={[527, 556, 586, 614, 645][i]} cy={923} r={[3.3, 8, 10, 12, 13.5][i]} fill="#000" />
          <T x={[527, 556, 586, 614, 645][i]} y={957} anchor="middle" size={17}>{n}</T>
        </g>
      ))}
      <LegendLog x={889} y={927} />
      <text x={892} y={956} fontSize={22} fill={INK}>(<tspan fontStyle="italic">P</tspan>adj)</text>
      <rect x={962} y={914} width={85} height={18} fill="url(#gYl)" />
      {["1.5", "2", "2.5"].map((s, i) => <T key={s} x={[976, 1011, 1047][i] + 8} y={945} rot={-90} anchor="end" size={20}>{s}</T>)}
      <T x={1064} y={928} size={22.5}>Intersection</T>
      <T x={1190} y={954} anchor="end">size</T>
      {[10, 15, 20, 25, 30].map((n, i) => (
        <g key={n}>
          <circle cx={[1207, 1236, 1266, 1295, 1325][i]} cy={922} r={[7.3, 9.3, 11, 12, 13][i]} fill="#000" />
          <T x={[1206, 1235, 1264, 1293, 1323][i]} y={957} anchor="middle" size={17}>{n}</T>
        </g>
      ))}

      {/* f */}
      <T x={1414} y={497} size={26.8}>ATF4-dependent (GSVA score)</T>
      <rect x={1559} y={509} width={102} height={17} fill="url(#gYl)" />
      {["\u22120.4", "\u22120.2", "0", "0.2"].map((s, i) => <T key={s} x={[1567, 1595, 1624, 1652][i] + 8} y={537} rot={-90} anchor="end" size={21}>{s}</T>)}

      {/* g legend */}
      {compTypes.map((s, i) => <rect key={s} x={1013} y={1019.5 + 22.4 * i} width={17} height={17.5} fill={compColors[i]} stroke="#222" strokeWidth={1.5} />)}
      {compTypes.map((s, i) => <LongTick key={s} text={s} x={1043} y={1034 + 22.4 * i} anchor="start" size={22} />)}
      <T x={567} y={1217} anchor="middle" size={26.8}>Percent of cells</T>

      {/* h */}
      <rect x={156} y={1237} width={823} height={248} {...frame} />
      <rect x={986} y={1239} width={13} height={245} fill="none" stroke="#777" strokeWidth={1.2} />
      {[0, 1, 2, 3, 4, 5].map((i) => <line key={i} x1={1005} x2={1005} y1={1243 + 40.7 * i} y2={1275 + 40.7 * i} stroke="#222" strokeWidth={1.5} />)}
      {compTypes.map((s, i) => <LongTick key={s} text={s} x={1017} y={1267 + 40.8 * i} anchor="start" size={22} />)}
      <rect x={412} y={1492} width={17} height={17} fill={GREY} stroke="#333" strokeWidth={1.5} />
      <T x={442} y={1507} size={22.5}>Non-ischemic</T>
      <rect x={626} y={1492} width={17} height={17} fill={PADBLUE} stroke="#333" strokeWidth={1.5} />
      <T x={659} y={1507} size={22.5}>PAD</T>
      <rect x={823} y={1491} width={156} height={12} fill="url(#gInfH)" />
      {["\u22122", "\u22121", "0", "1", "2"].map((s, i) => <T key={s} x={[831, 868, 899, 928, 959][i]} y={1526} anchor="middle">{s}</T>)}

      {/* i */}
      <T x={1276} y={1182} rot={-90} anchor="middle" size={27.5}>Number of DEGs</T>
      <rect x={1666} y={1028} width={17} height={17} fill={GREY} stroke="#333" strokeWidth={1.5} />
      <rect x={1666} y={1051} width={17} height={17} fill={PADBLUE} stroke="#333" strokeWidth={1.5} />
      <T x={1696} y={1044} size={21.6}>Non-ischemic</T>
      <T x={1696} y={1067} size={21.6}>PAD</T>

      {/* j */}
      <rect x={155.7} y={1583} width={145.5} height={773} {...frame} />
      <g transform="translate(100 1560) scale(.5869 .5102)">
        <path d={DENDRO} fill="none" stroke="#333" strokeWidth={1.2} vectorEffect="non-scaling-stroke" />
      </g>
      <rect x={908.7} y={1593} width={9} height={130} fill="url(#gBu)" />
      {goScale.map((s, i) => <T key={s} x={930} y={1594 + 21.7 * i + 8} size={22}>{s}</T>)}
      {goCols.map((s, i) => <LongTick key={s} text={s} x={174 + 36.4 * i + 8} y={2366} rot={-90} anchor="end" size={22} />)}

      {/* k */}
      <rect x={1182.7} y={1582} width={71.5} height={105} {...frame} />
      <rect x={1268} y={1582} width={72.7} height={105} {...frame} />
      <rect x={1182.7} y={1703} width={71.5} height={591} {...frame} />
      <rect x={1268} y={1703} width={72.7} height={591} {...frame} />
      <line x1={1349.7} x2={1349.7} y1={1582} y2={1687} stroke="#222" strokeWidth={1.5} />
      <line x1={1349.7} x2={1349.7} y1={1703} y2={2294} stroke="#222" strokeWidth={1.5} />
      <T x={1387} y={1635} rot={90} anchor="middle" size={22}>Fatty-acid</T>
      <T x={1359} y={1635} rot={90} anchor="middle" size={22}>metabolism</T>
      <T x={1359} y={1998} rot={90} anchor="middle" size={22}>Mesenchymal genes</T>
      <rect x={1421} y={1582} width={10} height={137} fill="url(#gDiv)" />
      {divScale.map((s, i) => <T key={s} x={1443} y={[1603, 1629, 1657, 1683, 1710][i]} size={22}>{s}</T>)}
      {[1201.7, 1236.7, 1287.7, 1323].map((x, i) => <T key={x} x={x + 8} y={2305} rot={-90} anchor="end" size={22}>{conditionCols[i % 2]}</T>)}
      <line x1={1182.7} x2={1254} y1={2463} y2={2463} stroke="#333" strokeWidth={1.3} />
      <line x1={1268} x2={1340.7} y1={2463} y2={2463} stroke="#333" strokeWidth={1.3} />
      <LongTick text="ATF3/4+ capillary" x={1232} y={2485} rot={-45} size={22.4} />
      <LongTick text="Capillary" x={1315} y={2483} rot={-45} size={22.4} />

      {/* l */}
      <rect x={1641.7} y={1583} width={60} height={808} {...frame} />
      <rect x={1718.7} y={1583} width={60} height={808} {...frame} />
      <rect x={1800} y={1583} width={10} height={134} fill="url(#gDiv)" />
      {divScale.map((s, i) => <T key={s} x={1822} y={[1603, 1630, 1657, 1684, 1710][i]} size={21}>{s}</T>)}
      {[1657, 1687, 1733, 1763].map((x, i) => <T key={x} x={x + 8} y={2402} rot={-90} anchor="end" size={22}>{conditionCols[i % 2]}</T>)}
      <line x1={1645.7} x2={1698.7} y1={2560} y2={2560} stroke="#333" strokeWidth={1.3} />
      <line x1={1722.3} x2={1775.7} y1={2560} y2={2560} stroke="#333" strokeWidth={1.3} />
      <LongTick text="ATF3/4+ capillary" x={1687} y={2572} rot={-45} size={20.5} />
      <LongTick text="Capillary" x={1764} y={2583} rot={-45} size={22.4} />
    </svg>
  );
}

export default function App() {
  const hCells = geneStripes.map((s) => s.slice(0, H_COLS).split(""));
  const sideCells = sideColors.map((s) => [s]);
  const splitK = (m: number[][], a: number) => m.map((r) => r.slice(a, a + 2));
  return (
    <div style={{ position: "absolute", left: 0, top: 0, width: 1867, height: 2707, background: "#fff", fontFamily: FONT, overflow: "hidden" }}>
      <style>{".recharts-surface{overflow:visible}"}</style>
      <ClusterMap />
      <DotPlot />
      <Heat left={1614} top={81} width={168} height={255} values={markerHeat.map((r) => r.split(""))} color={infernoDigit} />
      <Enrichment left={0} plotW={195} yW={620} labelGap={3} terms={keggTerms} rank={keggRank} padj={keggPadj} size={keggSize} radius={keggRadius} domainX={[2.96, 13.59]} domainY={[-0.99, 9.58]} ticksX={[5, 7.5, 10, 12.5]} colorDomain={[3, 13]} />
      <Enrichment left={899} plotW={240} yW={140} labelGap={6} terms={tfTerms} rank={tfRank} padj={tfPadj} size={tfSize} radius={tfRadius} domainX={[1.261, 2.565]} domainY={[-0.457, 10.51]} ticksX={[1.5, 2, 2.5]} colorDomain={[1.33, 2.5]} />
      <GsvaMap />
      <CompositionBars />
      <Heat left={156} top={1237} width={823} height={248} values={hCells} color={infernoDigit} bg="#d9503a" />
      <Heat left={986} top={1239} width={13} height={245} values={sideCells} color={(v: string) => (v === "n" ? GREY : PADBLUE)} />
      <DegBars />
      <Heat left={155.7} top={1583} width={145.5} height={773} values={goValues} color={goColor} labels={goTerms} labelWidth={760} side="right" fontSize={22.9} />
      <Heat left={1182.7} top={1582} width={71.5} height={105} values={splitK(fattyValues, 0)} color={divColor} labels={fattyGenes} labelWidth={130} italic />
      <Heat left={1268} top={1582} width={72.7} height={105} values={splitK(fattyValues, 2)} color={divColor} />
      <Heat left={1182.7} top={1703} width={71.5} height={591} values={splitK(mesValues, 0)} color={divColor} labels={mesGenes} labelWidth={130} italic nudge={{ FN1: 9 }} />
      <Heat left={1268} top={1703} width={72.7} height={591} values={splitK(mesValues, 2)} color={divColor} />
      <Heat left={1641.7} top={1583} width={60} height={808} values={splitK(ecmValues, 0)} color={divColor} labels={ecmGenes} labelWidth={130} italic />
      <Heat left={1718.7} top={1583} width={60} height={808} values={splitK(ecmValues, 2)} color={divColor} />
      <Overlay />
    </div>
  );
}
